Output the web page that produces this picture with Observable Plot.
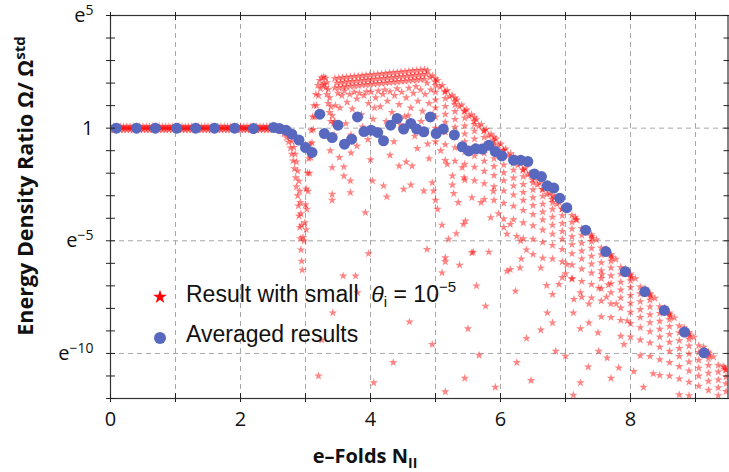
<!DOCTYPE html>
<html><head><meta charset="utf-8">
<script src="https://cdn.jsdelivr.net/npm/d3@7"></script>
<script src="https://cdn.jsdelivr.net/npm/@observablehq/plot@0.6"></script>
<style>
html,body{margin:0;padding:0;background:#fff;}
#chart{position:relative;width:729px;height:472px;overflow:hidden;}
</style></head><body><div id="chart"></div>
<script>
// ---- Averaged results (blue circles): x = e-folds, ln of ratio ----
const avgX = [0.09,0.40,0.69,1.02,1.31,1.60,1.91,2.20,2.51,2.60,2.70,2.79,2.90,3.00,3.10,3.22,3.29,3.41,3.50,3.60,3.71,3.80,3.90,4.01,4.11,4.20,4.31,4.41,4.51,4.62,4.71,4.82,4.92,5.01,5.12,5.29,5.41,5.51,5.62,5.72,5.82,5.92,6.02,6.20,6.31,6.42,6.52,6.63,6.72,6.82,6.91,7.02,7.31,7.62,7.92,8.22,8.52,8.83,9.13];
const avgLn = [0,0,0,0,0,0,0,-0.02,0.03,-0.02,-0.09,-0.27,-0.53,-0.86,-1.08,0.62,-0.24,-0.42,0.13,-0.71,-0.49,0.50,-0.15,-0.09,-0.19,-0.56,0.13,0.43,-0.04,0.21,-0.04,-0.16,0.50,-0.24,-0.04,-0.30,-0.83,-1.01,-0.92,-0.93,-0.76,-1.04,-1.23,-1.42,-1.42,-1.48,-2.03,-2.15,-2.56,-2.66,-3.11,-3.53,-4.53,-5.48,-6.37,-7.26,-8.09,-9.05,-9.97];

// ---- Result with small theta (red stars): [x, ln ratio] ----
const bandUpperX = [0.00,0.05,0.10,0.15,0.20,0.25,0.30,0.35,0.40,0.45,0.50,0.55,0.60,0.65,0.70,0.75,0.80,0.85,0.90,0.95,1.00,1.05,1.10,1.15,1.20,1.25,1.30,1.35,1.40,1.45,1.50,1.55,1.60,1.65,1.70,1.75,1.80,1.85,1.90,1.95,2.00,2.05,2.10,2.15,2.20,2.25,2.30,2.35,2.40,2.45,2.50];
const bandUpperLn = 0.07;
const bandMiddleLn = 0.0;
const bandLowerX = [0.025,0.075,0.125,0.175,0.225,0.275,0.325,0.375,0.425,0.475,0.525,0.575,0.625,0.675,0.725,0.775,0.825,0.875,0.925,0.975,1.025,1.075,1.125,1.175,1.225,1.275,1.325,1.375,1.425,1.475,1.525,1.575,1.625,1.675,1.725,1.775,1.825,1.875,1.925,1.975,2.025,2.075,2.125,2.175,2.225,2.275,2.325,2.375,2.425,2.475];
const bandLowerLn = -0.07;

const dropOuter = [[2.50,0.0],[2.56,-0.05],[2.62,-0.13],[2.67,-0.25],[2.71,-0.42],[2.74,-0.62],[2.77,-0.88],[2.79,-1.15],[2.81,-1.45],[2.83,-1.8],[2.85,-2.2],[2.86,-2.6],[2.88,-3.0],[2.89,-3.45],[2.90,-3.9],[2.91,-4.4],[2.92,-4.9],[2.93,-5.4],[2.94,-5.9],[2.95,-6.3]];
const dropInner = [[2.55,0.05],[2.61,0.0],[2.66,-0.08],[2.71,-0.2],[2.75,-0.36],[2.79,-0.58],[2.82,-0.85],[2.84,-1.15],[2.86,-1.5],[2.88,-1.9],[2.90,-2.35],[2.91,-2.8],[2.92,-3.3],[2.93,-3.8],[2.94,-4.3],[2.96,-4.85]];
const archOuter = [[2.98,-5.0],[2.99,-4.2],[3.00,-3.4],[3.01,-2.7],[3.03,-2.0],[3.05,-1.35],[3.07,-0.7],[3.09,-0.1],[3.11,0.5],[3.13,1.0],[3.16,1.5],[3.19,1.9],[3.22,2.12],[3.25,2.24],[3.28,2.28],[3.31,2.22],[3.33,2.02],[3.35,1.72],[3.37,1.35],[3.39,0.95],[3.41,0.55]];
const archInner = [[3.01,-4.5],[3.02,-3.6],[3.04,-2.8],[3.06,-2.0],[3.08,-1.3],[3.10,-0.65],[3.12,-0.05],[3.14,0.5],[3.17,1.0],[3.20,1.45],[3.23,1.75],[3.26,1.92],[3.29,1.95],[3.31,1.8],[3.33,1.5],[3.35,1.1],[3.37,0.7],[3.39,0.3]];
const plateauTop = [[3.45,2.20],[3.51,2.22],[3.57,2.24],[3.63,2.26],[3.69,2.28],[3.75,2.30],[3.81,2.31],[3.87,2.33],[3.93,2.35],[3.99,2.36],[4.05,2.38],[4.11,2.40],[4.17,2.41],[4.23,2.43],[4.29,2.45],[4.35,2.46],[4.41,2.48],[4.47,2.50],[4.53,2.51],[4.59,2.53],[4.65,2.55],[4.71,2.56],[4.77,2.58],[4.83,2.60]];
const plateauSecond = [[3.48,2.00],[3.54,2.02],[3.60,2.04],[3.66,2.06],[3.72,2.08],[3.78,2.09],[3.84,2.11],[3.90,2.13],[3.96,2.14],[4.02,2.16],[4.08,2.18],[4.14,2.19],[4.20,2.21],[4.26,2.23],[4.32,2.24],[4.38,2.26],[4.44,2.28],[4.50,2.29],[4.56,2.31],[4.62,2.33],[4.68,2.34],[4.74,2.36],[4.80,2.38],[4.86,2.40]];
const plateauThird = [[3.45,1.78],[3.51,1.80],[3.57,1.82],[3.63,1.84],[3.69,1.86],[3.75,1.88],[3.81,1.89],[3.87,1.91],[3.93,1.93],[3.99,1.94],[4.05,1.96],[4.11,1.98],[4.17,1.99],[4.23,2.01],[4.29,2.03],[4.35,2.04],[4.41,2.06],[4.47,2.08],[4.53,2.09],[4.59,2.11],[4.65,2.13],[4.71,2.14],[4.77,2.16],[4.83,2.18]];
const plateauInner = [[3.50,1.55],[3.56,1.45],[3.60,1.65],[3.64,1.15],[3.68,1.50],[3.72,0.85],[3.75,1.60],[3.79,1.30],[3.83,1.55],[3.86,0.60],[3.90,1.45],[3.94,1.62],[3.97,1.10],[4.01,1.60],[4.04,0.40],[4.08,1.35],[4.12,1.65],[4.15,0.95],[4.19,1.50],[4.22,1.70],[4.26,1.20],[4.30,1.62],[4.33,0.70],[4.37,1.45],[4.41,1.75],[4.44,1.05],[4.48,1.60],[4.52,0.50],[4.55,1.35],[4.59,1.78],[4.62,0.90],[4.66,1.55],[4.70,1.85],[4.73,1.20],[4.77,1.70],[4.80,0.75],[4.84,1.50],[4.87,2.00],[4.90,1.10],[4.93,1.70],
[3.45,0.30],[3.53,0.90],[3.62,0.20],[3.70,-0.30],[3.78,0.45],[3.88,0.05],[3.96,-0.50],[4.06,0.90],[4.14,-0.20],[4.24,0.30],[4.36,-0.60],[4.46,0.15],[4.58,0.55],[4.68,-0.35],[4.78,0.30],[4.88,-0.70],[4.96,0.60],[5.02,-0.10],
[3.38,-1.00],[3.79,-0.79],[3.52,-1.30],[3.70,-1.10],[4.00,-1.40],[4.30,-1.20],[4.55,-1.50],[4.72,-0.90],[4.90,-1.35],[5.08,-1.00],[5.18,-1.60],[3.43,0.20],[3.44,-0.30],[3.46,1.00]];
const declineEdge = [[4.880,2.55],[4.955,2.33],[5.030,2.12],[5.105,1.90],[5.180,1.68],[5.255,1.47],[5.330,1.25],[5.405,1.03],[5.480,0.82],[5.555,0.60],[5.630,0.38],[5.705,0.17],[5.780,-0.05],[5.855,-0.27],[5.930,-0.48],[6.005,-0.70],[6.080,-0.92],[6.155,-1.13],[6.230,-1.35],[6.305,-1.57],[6.380,-1.79],[6.455,-2.00],[6.530,-2.22],[6.605,-2.44],[6.680,-2.65],[6.755,-2.87],[6.830,-3.09],[6.905,-3.30],[6.980,-3.52]];
const declineEdge2 = [[4.918,2.26],[4.993,2.05],[5.068,1.83],[5.143,1.61],[5.218,1.40],[5.293,1.18],[5.368,0.96],[5.443,0.75],[5.518,0.53],[5.593,0.31],[5.668,0.09],[5.743,-0.12],[5.818,-0.34],[5.893,-0.56],[5.968,-0.77],[6.043,-0.99],[6.118,-1.21],[6.193,-1.42],[6.268,-1.64],[6.343,-1.86],[6.418,-2.07],[6.493,-2.29],[6.568,-2.51],[6.643,-2.72],[6.718,-2.94],[6.793,-3.16],[6.868,-3.37],[6.943,-3.59]];
const declineEdgeLate = [[7.175,-4.08],[7.325,-4.52],[7.475,-4.95],[7.625,-5.38],[7.775,-5.82],[7.925,-6.25],[8.075,-6.68],[8.225,-7.12],[8.375,-7.55],[8.525,-7.98],[8.675,-8.42],[8.825,-8.85],[8.975,-9.28],[9.125,-9.72],[9.275,-10.15],[9.425,-10.58]];
const declineCols = [
[5.00,[2.20,1.90,1.60,1.25,0.90,0.50,0.00,-0.60]],
[5.15,[1.62,1.32,0.97,0.62,0.27,-0.18,-0.73,-1.43]],
[5.30,[1.34,1.04,0.74,0.39,0.04,-0.36,-0.86,-1.46]],
[5.45,[0.75,0.45,0.10,-0.25,-0.60,-1.05,-1.60,-2.30]],
[5.60,[0.47,0.17,-0.13,-0.48,-0.83,-1.23,-1.73,-2.33]],
[5.75,[-0.11,-0.41,-0.76,-1.11,-1.46,-1.91,-2.46,-3.16]],
[5.90,[-0.40,-0.70,-1.00,-1.35,-1.70,-2.10,-2.60,-3.20]],
[6.05,[-0.98,-1.28,-1.63,-1.98,-2.33,-2.78,-3.33,-4.03]],
[6.20,[-1.26,-1.56,-1.86,-2.21,-2.56,-2.96,-3.46,-4.06]],
[6.35,[-1.85,-2.15,-2.50,-2.85,-3.20,-3.65,-4.20,-4.90]],
[6.50,[-2.13,-2.43,-2.73,-3.08,-3.43,-3.83,-4.33,-4.93]],
[6.65,[-2.72,-3.02,-3.37,-3.72,-4.07,-4.52,-5.07,-5.77]],
[6.80,[-3.00,-3.30,-3.60,-3.95,-4.30,-4.70,-5.20,-5.80]],
[6.95,[-3.58,-3.88,-4.23,-4.58,-4.93,-5.38,-5.93,-6.63]],
[7.10,[-3.87,-4.17,-4.47,-4.82,-5.17,-5.57,-6.07,-6.67]],
[7.25,[-4.45,-4.75,-5.10,-5.45,-5.80,-6.25,-6.80,-7.50]],
[7.40,[-4.73,-5.03,-5.33,-5.68,-6.03,-6.43,-6.93,-7.53]],
[7.55,[-5.32,-5.62,-5.97,-6.32,-6.67,-7.12,-7.67,-8.37]],
[7.70,[-5.60,-5.90,-6.20,-6.55,-6.90,-7.30,-7.80,-8.40]],
[7.85,[-6.18,-6.48,-6.83,-7.18,-7.53,-7.98,-8.53,-9.23]],
[8.00,[-6.47,-6.77,-7.07,-7.42,-7.77,-8.17,-8.67,-9.27]],
[8.15,[-7.05,-7.35,-7.70,-8.05,-8.40,-8.85,-9.40,-10.10]],
[8.30,[-7.33,-7.63,-7.93,-8.28,-8.63,-9.03,-9.53,-10.13]],
[8.45,[-7.92,-8.22,-8.57,-8.92,-9.27,-9.72,-10.27,-10.97]],
[8.60,[-8.20,-8.50,-8.80,-9.15,-9.50,-9.90,-10.40,-11.00]],
[8.75,[-8.78,-9.08,-9.43,-9.78,-10.13,-10.58,-11.13,-11.83]],
[8.90,[-9.07,-9.37,-9.67,-10.02,-10.37,-10.77,-11.27,-11.87]],
[9.05,[-9.65,-9.95,-10.30,-10.65,-11.00,-11.45]],
[9.20,[-9.93,-10.23,-10.53,-10.88,-11.23,-11.63]],
[9.35,[-10.52,-10.82,-11.17,-11.52,-11.87]],
[9.47,[-10.74,-11.04,-11.34,-11.69]]];
const teeth = [[7.15,-3.95],[7.16,-4.05],[7.40,-4.80],[7.41,-4.88],[7.70,-5.67],[7.71,-5.75],[8.00,-6.54],[8.01,-6.62],[8.30,-7.40],[8.31,-7.48],[8.60,-8.27],[8.61,-8.35],[8.90,-9.14],[8.91,-9.22],[9.20,-10.00],[9.21,-10.08],[9.45,-10.62],[9.46,-10.72]];
const scatter = [[3.41,-1.75],[3.59,-1.72],[3.59,-2.12],[3.69,-2.34],[3.41,-2.93],[3.41,-3.20],[3.69,-2.86],[3.92,-3.75],[4.03,-2.34],[4.20,-2.56],[4.25,-3.05],[4.44,-1.68],[4.51,-2.71],[4.64,-1.68],[4.62,-2.52],[4.82,-2.79],[4.95,-2.42],[4.97,-2.79],[5.03,-3.60],[5.26,-2.12],[5.26,-2.52],[5.41,-1.75],[5.43,-4.27],[5.46,-4.12],[5.32,-4.68],[5.20,-4.93],[4.87,-5.38],[3.97,-5.57],[5.56,-5.53],[5.15,-5.75],[3.42,-8.20],[3.58,-6.56],[3.77,-6.56],
[5.15,-5.93],[5.37,-6.08],[5.10,-6.42],[5.63,-7.00],[5.77,-7.90],[5.58,-5.50],[5.82,-5.50],[6.15,-6.27],[6.10,-6.35],[6.30,-6.20],[6.32,-5.80],[6.23,-7.23],[6.62,-6.20],[6.71,-6.98],[6.80,-7.38],[6.90,-6.93],[6.72,-8.20],[6.80,-8.64],[6.62,-8.96],[6.40,-9.33],[5.67,-10.08],[5.92,-11.50],[6.47,-11.20],[7.00,-10.12],[7.12,-11.85],[7.23,-11.30],[7.13,-7.60],[7.12,-8.20],[7.23,-8.90],[7.36,-8.64],[7.50,-9.08],[7.64,-10.20],[7.51,-9.90],[7.82,-10.64],[7.00,-6.46],[7.02,-6.05],[7.10,-6.70],[7.23,-7.30],[7.36,-7.80],[7.51,-7.10],[7.63,-7.50],[7.78,-7.80],[7.95,-8.55],[7.56,-6.50],[7.66,-6.95],
[5.28,-2.90],[5.44,-2.20],[5.56,-3.08],[5.85,-3.97],[5.89,-2.80],[5.97,-3.80],[6.05,-4.40],[6.15,-4.27],[6.10,-4.70],[6.31,-5.00],[6.25,-4.80],[6.40,-5.40],[6.50,-5.60],[5.70,-3.30],[5.35,-3.30],[5.10,-4.30],[5.00,-3.20],
[3.20,-11.00],[3.25,-9.40],[3.80,-7.30],[4.05,-11.30],[4.35,-10.40],[4.60,-8.60],[4.95,-9.60],[5.15,-11.70],[5.50,-8.90],[5.45,-11.10],
[7.90,-9.60],[8.05,-10.80],[8.20,-11.50],[7.70,-11.10],[8.35,-10.90],[7.35,-10.60],[6.85,-9.90],[6.25,-10.40]];

// ---- Axis ticks ----
const xTickValues = [0,1,2,3,4,5,6,7,8,9];
const xLabelValues = [0,2,4,6,8];
const yMinorExp = [5,4,3,2,1,0,-1,-2,-3,-4,-5,-6,-7,-8,-9,-10,-11,-12];
const yLabelExp = [5,0,-5,-10];
const yGridExp = [0,-5,-10];
const xGridValues = [1,2,3,4,5,6,7,8,9];

// ---- build tables ----
const E = Math.exp;
const avg = avgX.map((x, i) => ({x, y: E(avgLn[i])}));
const starPairs = [
  ...bandUpperX.map(x => [x, bandUpperLn]),
  ...bandLowerX.map(x => [x, bandMiddleLn]),
  ...bandUpperX.map(x => [x, bandLowerLn]),
  ...dropOuter, ...dropInner, ...archOuter, ...archInner,
  ...plateauTop, ...plateauSecond, ...plateauThird, ...plateauInner,
  ...declineEdge, ...declineEdge2, ...declineEdgeLate,
  ...declineCols.flatMap(([x, lns]) => lns.map(l => [x, l])),
  ...teeth, ...scatter
];
const stars = starPairs.map(([x, l]) => ({x, y: E(l)}));

const gridStyle = {stroke: "#a8a8a8", strokeOpacity: 1, strokeWidth: 1, strokeDasharray: "5,4"};
const blank = () => "";

const plot = Plot.plot({
  width: 729, height: 472,
  marginLeft: 110, marginRight: 1.5, marginTop: 15, marginBottom: 74,
  style: {fontFamily: "'Open Sans', sans-serif", fontSize: "20px", color: "#111", background: "#fff", overflow: "visible"},
  x: {domain: [0, 9.5]},
  y: {type: "log", base: Math.E, domain: [E(-12), E(5)]},
  marks: [
    Plot.gridX(xGridValues, gridStyle),
    Plot.gridY(yGridExp.map(E), gridStyle),
    Plot.dot(stars, {x: "x", y: "y", symbol: "star", r: 2.7, fill: "#ff0000", fillOpacity: 0.48, clip: true}),
    Plot.dot(avg, {x: "x", y: "y", r: 5.5, fill: "#5868be", clip: true}),
    Plot.frame({stroke: "#333", strokeWidth: 1.2}),
    Plot.axisX(xTickValues, {anchor: "bottom", tickSize: 9, dy: -5, tickFormat: blank, label: null, stroke: "#222"}),
    Plot.axisX(xTickValues, {anchor: "top", tickSize: 8, dy: 4, tickFormat: blank, label: null, stroke: "#222"}),
    Plot.axisX(xLabelValues, {anchor: "bottom", tickSize: 0, tickPadding: 13, label: null, tickFormat: d => String(d)}),
    Plot.axisY(yMinorExp.map(E), {anchor: "left", tickSize: 9, dx: 5, tickFormat: blank, label: null, stroke: "#222"}),
    Plot.axisY(yMinorExp.map(E), {anchor: "right", tickSize: 9, dx: -5, tickFormat: blank, label: null, stroke: "#222"}),
    Plot.axisY(yLabelExp.map(E), {anchor: "left", tickSize: 0, tickPadding: 17, label: null,
      tickFormat: v => { const k = Math.round(Math.log(v)); return k === 0 ? "1" : "e^" + k; }})
  ]
});

document.getElementById("chart").appendChild(plot);
const svg = d3.select(plot);

// superscripts on y tick labels
svg.selectAll("text").each(function() {
  const t = this.textContent;
  if (/^e\^-?\d+$/.test(t)) {
    const k = t.slice(2).replace("-", "\u2212");
    const sel = d3.select(this);
    sel.text(null);
    sel.append("tspan").text("e");
    sel.append("tspan").attr("dy", "-7").attr("font-size", "14px").text(k);
  }
});

// axis titles
const yt = svg.append("text")
  .attr("transform", "translate(33,186) rotate(-90)")
  .attr("text-anchor", "middle")
  .attr("fill", "#111")
  .style("font", "bold 21.5px 'Open Sans', sans-serif");
yt.append("tspan").text("Energy Density Ratio \u03A9/ \u03A9");
yt.append("tspan").attr("dy", "-8").attr("font-size", "15px").text("std");

const xt = svg.append("text")
  .attr("x", 365).attr("y", 463)
  .attr("text-anchor", "middle")
  .attr("fill", "#111")
  .style("font", "bold 20px 'Open Sans', sans-serif");
xt.append("tspan").text("e\u2013Folds N");
xt.append("tspan").attr("dy", "5").attr("font-size", "14px").text("II");

// legend
const lg = svg.append("g").style("font", "23px 'Liberation Sans', Arial, sans-serif").attr("fill", "#111").attr("text-anchor", "start");
lg.append("path").attr("transform", "translate(160,297)")
  .attr("d", d3.symbol(d3.symbolStar, 60)()).attr("fill", "#ff0000");
lg.append("circle").attr("cx", 160).attr("cy", 338).attr("r", 6).attr("fill", "#5868be");
const l1 = lg.append("text").attr("x", 186).attr("y", 302).attr("text-anchor", "start");
l1.append("tspan").text("Result with small  ");
l1.append("tspan").attr("font-style", "italic").text("\u03B8");
l1.append("tspan").attr("dy", "5").attr("font-size", "15px").text("i");
l1.append("tspan").attr("dy", "-5").text(" = 10");
l1.append("tspan").attr("dy", "-10").attr("font-size", "15px").text("\u22125");
lg.append("text").attr("x", 186).attr("y", 342).attr("text-anchor", "start").text("Averaged results");
</script></body></html>
